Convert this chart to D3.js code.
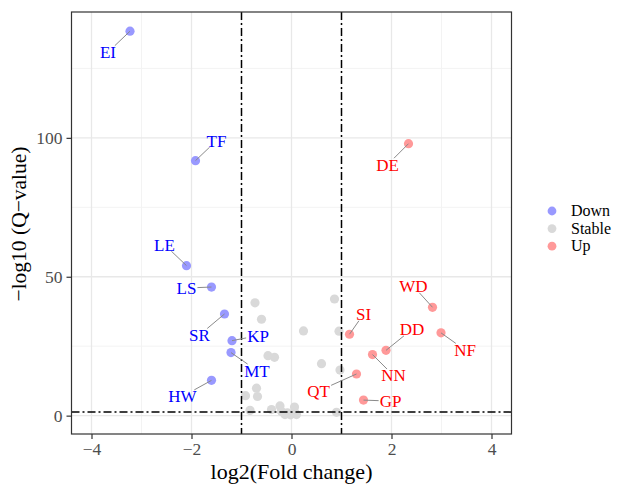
<!DOCTYPE html>
<html>
<head>
<meta charset="utf-8">
<script src="https://cdn.jsdelivr.net/npm/d3@7"></script>
<style>
  body { margin: 0; background: #fff; }
  svg text { font-family: "Liberation Serif", "Times New Roman", serif; }
</style>
</head>
<body>
<svg id="chart" width="617" height="484"></svg>
<script>
// labelled genes
const genes = ['EI', 'TF', 'LE', 'LS', 'SR', 'KP', 'MT', 'HW', 'DE', 'WD', 'NF', 'SI', 'DD', 'NN', 'QT', 'GP'];
const geneFC = [-3.23, -1.92, -2.10, -1.60, -1.34, -1.19, -1.21, -1.60, 2.34, 2.82, 2.99, 1.16, 1.89, 1.62, 1.30, 1.44];
const geneQ = [138.4, 91.8, 54.0, 46.3, 36.6, 27.0, 22.7, 12.7, 97.9, 39.0, 29.8, 29.3, 23.5, 22.0, 15.0, 5.6];

// unlabelled (stable) genes
const stableFC = [-0.73, -0.60, 0.24, 0.86, 0.95, -0.47, -0.34, 0.60, 0.97, -0.70, -0.68, -0.92, -0.83, -0.40, -0.23, -0.20, -0.08, -0.13, 0.06, 0.07, 0.10, 0.90, -0.02];
const stableQ = [40.6, 34.7, 30.5, 42.0, 30.4, 21.6, 21.0, 18.7, 16.4, 9.9, 6.9, 7.2, 1.9, 2.2, 3.5, 1.5, 1.0, 0.4, 3.1, 1.0, 0.4, 1.2, 0.3];

const groups = ['Down', 'Stable', 'Up'];
const xTicks = [-4, -2, 0, 2, 4];
const yTicks = [0, 50, 100];
const fcCut = 1;
const qCut = -Math.log10(0.05);

// label nudges in px (repel result)
const labelNudge = [[-22, 21], [21, -20], [-22, -21], [-25, 1], [-25, 21], [26, -5], [26, 18], [-29, 16],
  [-21, 21], [-19, -21], [24, 17], [14, -20], [26, -21], [21, 21], [-38, 17], [27, 1]];

const colour = d3.scaleOrdinal().domain(groups).range(['#9999ff', '#d9d9d9', '#ff9999']);
const textColour = {Down: '#0000ff', Up: '#ff0000'};

function groupOf(fc, q) {
  if (q > qCut && fc > fcCut) return 'Up';
  if (q > qCut && fc < -fcCut) return 'Down';
  return 'Stable';
}

const points = stableFC.map((fc, i) => ({fc, q: stableQ[i], label: null}))
  .concat(genes.map((g, i) => ({fc: geneFC[i], q: geneQ[i], label: g, nudge: labelNudge[i]})));
points.forEach(d => { d.group = groupOf(d.fc, d.q); });

const svg = d3.select('#chart');
const panel = {left: 71.5, top: 12, right: 511.5, bottom: 434};

const x = d3.scaleLinear().domain([-4.4, 4.4]).range([panel.left, panel.right]);
const qExt = d3.extent(points, d => d.q);
const pad = (qExt[1] - qExt[0]) * 0.05;
const y = d3.scaleLinear().domain([qExt[0] - pad, qExt[1] + pad]).range([panel.bottom, panel.top]);

// grid
const grid = svg.append('g');
[-3, -1, 1, 3].forEach(v => grid.append('line').attr('x1', x(v)).attr('x2', x(v))
  .attr('y1', panel.top).attr('y2', panel.bottom).attr('stroke', '#f3f3f3').attr('stroke-width', 1));
[25, 75, 125].forEach(v => grid.append('line').attr('y1', y(v)).attr('y2', y(v))
  .attr('x1', panel.left).attr('x2', panel.right).attr('stroke', '#f3f3f3').attr('stroke-width', 1));
xTicks.forEach(v => grid.append('line').attr('x1', x(v)).attr('x2', x(v))
  .attr('y1', panel.top).attr('y2', panel.bottom).attr('stroke', '#e8e8e8').attr('stroke-width', 1.3));
yTicks.forEach(v => grid.append('line').attr('y1', y(v)).attr('y2', y(v))
  .attr('x1', panel.left).attr('x2', panel.right).attr('stroke', '#e8e8e8').attr('stroke-width', 1.3));

// points
svg.append('g').selectAll('circle')
  .data(points)
  .join('circle')
  .attr('cx', d => x(d.fc))
  .attr('cy', d => y(d.q))
  .attr('r', 4.6)
  .attr('fill', d => colour(d.group));

// threshold lines
const dash = '8,3,2,3';
[-fcCut, fcCut].forEach(v => svg.append('line')
  .attr('x1', x(v)).attr('x2', x(v)).attr('y1', panel.top).attr('y2', panel.bottom)
  .attr('stroke', '#000').attr('stroke-width', 1.5).attr('stroke-dasharray', dash));
svg.append('line')
  .attr('x1', panel.left).attr('x2', panel.right).attr('y1', y(qCut)).attr('y2', y(qCut))
  .attr('stroke', '#000').attr('stroke-width', 1.5).attr('stroke-dasharray', dash);

// labels + segments
const labelled = points.filter(d => d.label);
const segG = svg.append('g');
const txtG = svg.append('g');
labelled.forEach(d => {
  const px = x(d.fc), py = y(d.q);
  const lx = px + d.nudge[0], ly = py + d.nudge[1];
  const t = txtG.append('text')
    .attr('x', lx).attr('y', ly).attr('dy', '0.35em')
    .attr('text-anchor', 'middle')
    .attr('font-size', 17)
    .attr('fill', textColour[d.group])
    .text(d.label);
  const b = t.node().getBBox();
  // segment goes to nearest edge of the label box
  const hx = b.width / 2 + 1, hy = 6.5;
  const dx = px - lx, dy = py - ly;
  const s = Math.min(Math.abs(dx) > 0 ? hx / Math.abs(dx) : Infinity, Math.abs(dy) > 0 ? hy / Math.abs(dy) : Infinity);
  segG.append('line')
    .attr('x1', px).attr('y1', py)
    .attr('x2', lx + dx * s).attr('y2', ly + dy * s)
    .attr('stroke', '#8a8a8a').attr('stroke-width', 1);
});

// panel border
svg.append('rect')
  .attr('x', panel.left).attr('y', panel.top)
  .attr('width', panel.right - panel.left).attr('height', panel.bottom - panel.top)
  .attr('fill', 'none').attr('stroke', '#333').attr('stroke-width', 1.2);

// axes
const xAxis = svg.append('g')
  .attr('transform', `translate(0,${panel.bottom})`)
  .call(d3.axisBottom(x).tickValues(xTicks).tickSize(5).tickPadding(4).tickFormat(d => d3.format('')(d).replace('-', '\u2212')));
const yAxis = svg.append('g')
  .attr('transform', `translate(${panel.left},0)`)
  .call(d3.axisLeft(y).tickValues(yTicks).tickSize(5).tickPadding(4));
[xAxis, yAxis].forEach(a => {
  a.select('.domain').remove();
  a.selectAll('.tick line').attr('stroke', '#333').attr('stroke-width', 1.2);
  a.selectAll('.tick text').attr('fill', '#4d4d4d').attr('font-size', 17.5)
    .attr('font-family', '"Liberation Serif", serif');
});

svg.append('text')
  .attr('x', (panel.left + panel.right) / 2).attr('y', 479)
  .attr('text-anchor', 'middle').attr('font-size', 22)
  .text('log2(Fold change)');
svg.append('text')
  .attr('transform', 'translate(26,224) rotate(-90)')
  .attr('text-anchor', 'middle').attr('font-size', 21.5)
  .text('\u2212log10 (Q\u2212value)');

// legend
const legend = svg.append('g').attr('transform', 'translate(552,211)');
groups.forEach((g, i) => {
  const row = legend.append('g').attr('transform', `translate(0,${i * 17.6})`);
  row.append('circle').attr('r', 4.4).attr('fill', colour(g));
  row.append('text').attr('x', 19).attr('dy', '0.32em').attr('font-size', 16).text(g);
});
</script>
</body>
</html>
